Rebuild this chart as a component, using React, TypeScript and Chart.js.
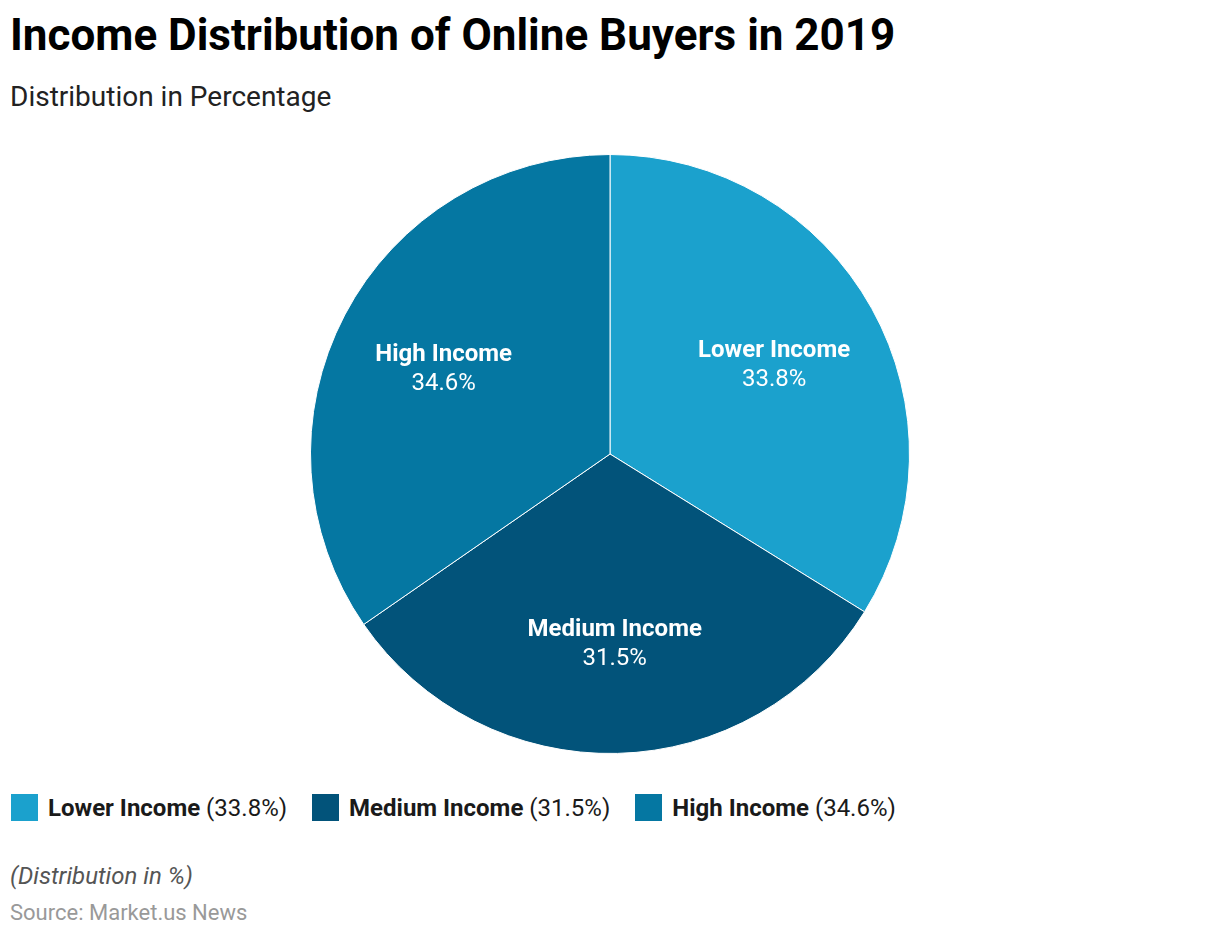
import React, { useEffect, useRef } from "react";
import { Chart, registerables } from "chart.js";

Chart.register(...registerables);

const title = "Income Distribution of Online Buyers in 2019";
const subtitle = "Distribution in Percentage";
const categories = ["Lower Income", "Medium Income", "High Income"];
const values = [33.8, 31.5, 34.6];
const colors = ["#1ba1cd", "#02537a", "#0577a2"];
const footnote = "(Distribution in %)";
const source = "Source: Market.us News";

const FONT = "Roboto, 'Noto Sans', sans-serif";

const sliceLabels = {
  id: "sliceLabels",
  afterDatasetsDraw(chart: any) {
    const ctx = chart.ctx;
    const meta = chart.getDatasetMeta(0);
    ctx.save();
    ctx.fillStyle = "#ffffff";
    ctx.textAlign = "center";
    ctx.textBaseline = "middle";
    meta.data.forEach((arc: any, i: number) => {
      const p = arc.getProps(["x", "y", "startAngle", "endAngle", "outerRadius"], true);
      const mid = (p.startAngle + p.endAngle) / 2;
      const r = p.outerRadius * 0.627;
      const cx = p.x + Math.cos(mid) * r;
      const cy = p.y + Math.sin(mid) * r + 1;
      ctx.font = `bold 24px ${FONT}`;
      ctx.fillText(categories[i], cx, cy - 12.5);
      ctx.font = `24px ${FONT}`;
      ctx.fillText(values[i].toFixed(1) + "%", cx, cy + 16);
    });
    ctx.restore();
  },
};

export default function App() {
  const ref = useRef<HTMLCanvasElement | null>(null);
  useEffect(() => {
    if (!ref.current) return;
    const chart = new Chart(ref.current, {
      type: "pie",
      data: {
        labels: categories,
        datasets: [
          {
            data: values,
            backgroundColor: colors,
            borderColor: "#ffffff",
            borderWidth: 1,
          },
        ],
      },
      options: {
        animation: false,
        responsive: true,
        maintainAspectRatio: false,
        layout: { padding: 10 },
        plugins: {
          legend: { display: false },
          tooltip: { enabled: false },
        },
      },
      plugins: [sliceLabels],
    });
    return () => chart.destroy();
  }, []);

  return (
    <div
      style={{
        position: "absolute",
        left: 0,
        top: 0,
        width: 1220,
        height: 936,
        background: "#ffffff",
        fontFamily: FONT,
        overflow: "hidden",
      }}
    >
      <div
        style={{
          position: "absolute",
          left: 10,
          top: 13,
          fontSize: 44,
          lineHeight: "44px",
          fontWeight: 700,
          color: "#000",
          whiteSpace: "nowrap",
        }}
      >
        {title}
      </div>
      <div
        style={{
          position: "absolute",
          left: 10,
          top: 83,
          fontSize: 28,
          lineHeight: "28px",
          color: "#222",
          whiteSpace: "nowrap",
        }}
      >
        {subtitle}
      </div>
      <div style={{ position: "absolute", left: 0, top: 144, width: 1220, height: 620 }}>
        <canvas ref={ref} />
      </div>
      <div
        style={{
          position: "absolute",
          left: 11,
          top: 794,
          height: 27,
          display: "flex",
          alignItems: "center",
          whiteSpace: "nowrap",
        }}
      >
        {categories.map((c, i) => (
          <div key={c} style={{ display: "flex", alignItems: "center", marginRight: 25 }}>
            <div style={{ width: 27, height: 27, background: colors[i], marginRight: 10 }} />
            <span style={{ fontSize: 24, lineHeight: "27px", color: "#1a1a1a", position: "relative", top: 1 }}>
              <b>{c}</b> ({values[i].toFixed(1)}%)
            </span>
          </div>
        ))}
      </div>
      <div
        style={{
          position: "absolute",
          left: 10,
          top: 864,
          fontSize: 24,
          lineHeight: "24px",
          fontStyle: "italic",
          color: "#555",
          whiteSpace: "nowrap",
        }}
      >
        {footnote}
      </div>
      <div
        style={{
          position: "absolute",
          left: 10,
          top: 902,
          fontSize: 22,
          lineHeight: "22px",
          color: "#999",
          whiteSpace: "nowrap",
        }}
      >
        {source}
      </div>
    </div>
  );
}
